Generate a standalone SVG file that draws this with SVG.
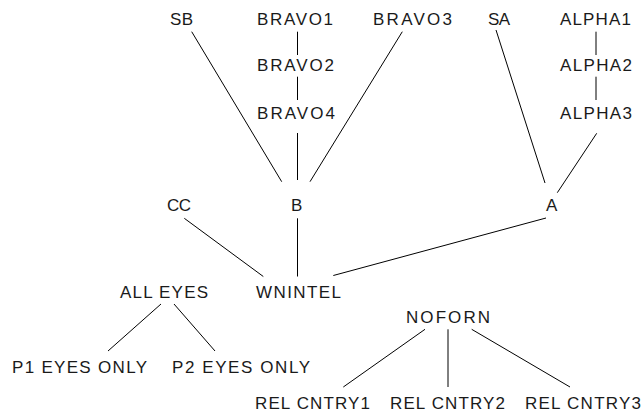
<svg xmlns="http://www.w3.org/2000/svg" width="643" height="414" viewBox="0 0 643 414">
<style>
text{font-family:"Liberation Sans",Arial,sans-serif;font-size:17px;fill:#1a1a1a}
.e line{stroke:#000;stroke-width:1}
</style>
<rect width="643" height="414" fill="#fff"/>
<g class="e" id="connectors">
<line x1="191.7" y1="31.7" x2="281.7" y2="181.7"/>
<line x1="297.5" y1="31.7" x2="297.5" y2="55"/>
<line x1="297.5" y1="76.7" x2="297.5" y2="100"/>
<line x1="297.5" y1="133" x2="297.5" y2="180"/>
<line x1="402.3" y1="31.7" x2="310" y2="181.7"/>
<line x1="496" y1="30" x2="545" y2="183"/>
<line x1="596" y1="31.7" x2="596" y2="55"/>
<line x1="596" y1="76.7" x2="596" y2="100"/>
<line x1="596.7" y1="133.3" x2="557.3" y2="192.7"/>
<line x1="184.3" y1="218.3" x2="263.3" y2="276.5"/>
<line x1="297.5" y1="218.3" x2="297.5" y2="276.5"/>
<line x1="333.3" y1="275.5" x2="546" y2="218"/>
<line x1="161" y1="304" x2="108" y2="351"/>
<line x1="174" y1="304" x2="215" y2="351"/>
<line x1="425" y1="329.3" x2="343.3" y2="387"/>
<line x1="448" y1="329.3" x2="448" y2="387"/>
<line x1="471.7" y1="329.3" x2="570" y2="387"/>
</g>
<g id="SB"><text x="170" y="24.5" textLength="23" lengthAdjust="spacing">SB</text></g>
<g id="BRAVO1"><text x="257" y="24.5" textLength="76" lengthAdjust="spacing">BRAVO1</text></g>
<g id="BRAVO2"><text x="257" y="70.5" textLength="77" lengthAdjust="spacing">BRAVO2</text></g>
<g id="BRAVO4"><text x="257" y="118.5" textLength="78" lengthAdjust="spacing">BRAVO4</text></g>
<g id="BRAVO3"><text x="373" y="24.5" textLength="79" lengthAdjust="spacing">BRAVO3</text></g>
<g id="SA"><text x="488" y="24.5" textLength="22" lengthAdjust="spacing">SA</text></g>
<g id="ALPHA1"><text x="560" y="24.5" textLength="71" lengthAdjust="spacing">ALPHA1</text></g>
<g id="ALPHA2"><text x="560" y="70.5" textLength="72" lengthAdjust="spacing">ALPHA2</text></g>
<g id="ALPHA3"><text x="560" y="118.5" textLength="72" lengthAdjust="spacing">ALPHA3</text></g>
<g id="CC"><text x="167" y="210.5" textLength="24" lengthAdjust="spacing">CC</text></g>
<g id="B"><text x="291" y="210.5">B</text></g>
<g id="A"><text x="546" y="210.5">A</text></g>
<g id="ALLEYES"><text x="120" y="297.5" textLength="88" lengthAdjust="spacing">ALL EYES</text></g>
<g id="WNINTEL"><text x="256" y="297.5" textLength="85" lengthAdjust="spacing">WNINTEL</text></g>
<g id="NOFORN"><text x="406" y="322.5" textLength="84" lengthAdjust="spacing">NOFORN</text></g>
<g id="P1EYESONLY"><text x="12" y="372.5" textLength="135" lengthAdjust="spacing">P1 EYES ONLY</text></g>
<g id="P2EYESONLY"><text x="172" y="372.5" textLength="138" lengthAdjust="spacing">P2 EYES ONLY</text></g>
<g id="RELCNTRY1"><text x="255" y="408.5" textLength="115" lengthAdjust="spacing">REL CNTRY1</text></g>
<g id="RELCNTRY2"><text x="390" y="408.5" textLength="115" lengthAdjust="spacing">REL CNTRY2</text></g>
<g id="RELCNTRY3"><text x="525" y="408.5" textLength="116" lengthAdjust="spacing">REL CNTRY3</text></g>
</svg>
